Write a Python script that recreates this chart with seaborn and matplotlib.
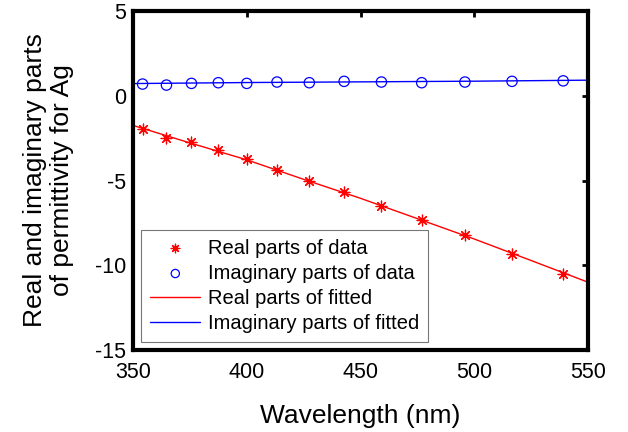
import matplotlib
matplotlib.use("Agg")
import matplotlib.pyplot as plt
import seaborn as sns
import pandas as pd

# Measured permittivity of silver (photon energies 3.5 ... 2.3 eV)
wavelength_data = [354.2, 364.7, 375.7, 387.5, 400.0, 413.3, 427.5,
                   442.8, 459.2, 476.9, 495.9, 516.6, 539.1]
real_data = [-1.96, -2.51, -2.71, -3.20, -3.75, -4.38, -5.03,
             -5.68, -6.52, -7.33, -8.23, -9.35, -10.52]
imag_data = [0.69, 0.63, 0.73, 0.77, 0.73, 0.81, 0.77,
             0.85, 0.81, 0.77, 0.81, 0.85, 0.88]

# Fitted model evaluated over the plotted range
wavelength_fit = [350, 375, 400, 425, 450, 475, 500, 525, 550]
real_fit = [-1.75, -2.78, -3.78, -4.93, -6.05, -7.25, -8.45, -9.72, -11.0]
imag_fit = [0.72, 0.75, 0.78, 0.80, 0.82, 0.84, 0.86, 0.89, 0.92]

x_ticks = [350, 400, 450, 500, 550]
y_ticks = [-15, -10, -5, 0, 5]

sns.set_theme(style="white")
plt.rcParams["font.family"] = ["Liberation Sans", "DejaVu Sans"]
plt.rcParams["text.color"] = "black"
plt.rcParams["axes.labelcolor"] = "black"
plt.rcParams["xtick.color"] = "black"
plt.rcParams["ytick.color"] = "black"

data = pd.DataFrame({"wl": wavelength_data, "re": real_data, "im": imag_data})
fit = pd.DataFrame({"wl": wavelength_fit, "re": real_fit, "im": imag_fit})

fig = plt.figure(figsize=(6.28, 4.32), dpi=100)
ax = fig.add_axes([0.2118, 0.1898, 0.7245, 0.7847])

# eight-armed asterisk, as a line-only marker
asterisk = (8, 2, 0)

sns.scatterplot(data=data, x="wl", y="re", ax=ax, marker=asterisk, s=60,
                color="red", edgecolor="red", linewidth=0.9,
                label="Real parts of data", zorder=3)
sns.scatterplot(data=data, x="wl", y="im", ax=ax, marker="o", s=55,
                facecolor="none", edgecolor="blue", linewidth=0.9,
                label="Imaginary parts of data", zorder=3)
sns.lineplot(data=fit, x="wl", y="re", ax=ax, color="red", linewidth=1.0,
             label="Real parts of fitted")
sns.lineplot(data=fit, x="wl", y="im", ax=ax, color="blue", linewidth=1.0,
             label="Imaginary parts of fitted")

ax.set_xlim(350, 550)
ax.set_ylim(-15, 5)
ax.set_xticks(x_ticks)
ax.set_yticks(y_ticks)
ax.set_xticklabels([str(v) for v in x_ticks])
ax.set_yticklabels([str(v) for v in y_ticks])

for side in ax.spines.values():
    side.set_visible(True)
    side.set_color("black")
    side.set_linewidth(3.0)

ax.tick_params(direction="in", top=True, right=True, length=4, width=2,
               labelsize=15.5, colors="black")
ax.tick_params(axis="x", pad=8.5)
ax.tick_params(axis="y", pad=5)
ax.set_xlabel("Wavelength (nm)", fontsize=19, labelpad=15, color="black")
ax.set_ylabel("Real and imaginary parts\nof permittivity for Ag",
              fontsize=19, labelpad=15, linespacing=1.15, color="black")

leg = ax.legend(loc="lower left", fontsize=14.5, frameon=True, fancybox=False,
                borderaxespad=0.4, handlelength=2.5, handletextpad=0.35,
                labelspacing=0.3, borderpad=0.45, markerscale=0.8,
                labelcolor="black")
leg.get_frame().set_edgecolor("#555555")
leg.get_frame().set_linewidth(0.8)

fig.savefig("out.png", dpi=100)
